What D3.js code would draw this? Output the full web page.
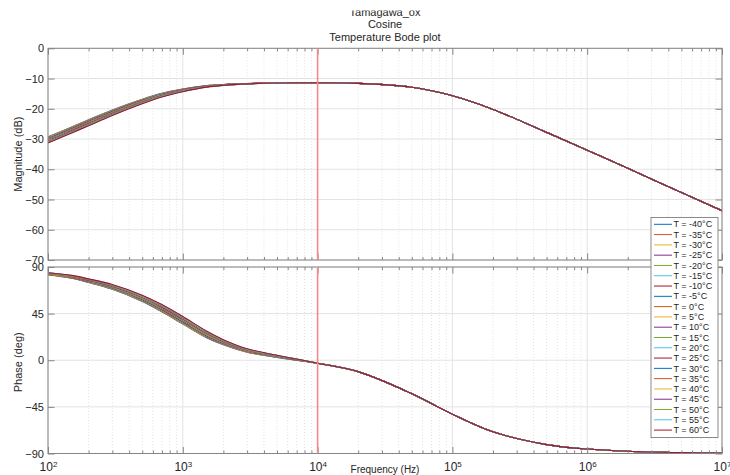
<!DOCTYPE html>
<html>
<head>
<meta charset="utf-8">
<script src="https://cdn.jsdelivr.net/npm/d3@7"></script>
<style>
  html, body { margin: 0; padding: 0; background: #fff; }
  svg { display: block; font-family: "Liberation Sans", Arial, Helvetica, sans-serif; }
</style>
</head>
<body>
<svg id="chart" width="730" height="475"></svg>
<script>
// ---- data -------------------------------------------------------------
const temperatures = [-40, -35, -30, -25, -20, -15, -10, -5, 0, 5, 10, 15, 20, 25, 30, 35, 40, 45, 50, 55, 60];

// frequencies (Hz) where the temperature curves still differ
const freqLow = [100, 150, 200, 300, 500, 700, 1000, 1500, 2000, 3000, 5000, 7000];
// frequencies (Hz) where all curves coincide
const freqHigh = [1e4, 2e4, 5e4, 1e5, 2e5, 5e5, 1e6, 2e6, 5e6, 1e7];

// magnitude (dB), one row per temperature, at freqLow
const magLow = [
  [-29.3, -26.0, -23.6, -20.40, -16.85, -14.90, -13.45, -12.35, -11.95, -11.63, -11.43, -11.4],
  [-29.4, -26.1, -23.7, -20.49, -16.93, -14.96, -13.50, -12.38, -11.97, -11.64, -11.43, -11.4],
  [-29.5, -26.2, -23.8, -20.58, -17.00, -15.02, -13.54, -12.40, -11.98, -11.64, -11.43, -11.4],
  [-29.6, -26.3, -23.9, -20.67, -17.08, -15.08, -13.59, -12.43, -12.00, -11.65, -11.44, -11.4],
  [-29.7, -26.4, -24.0, -20.76, -17.15, -15.14, -13.63, -12.45, -12.01, -11.66, -11.44, -11.4],
  [-29.8, -26.5, -24.1, -20.85, -17.23, -15.20, -13.68, -12.48, -12.03, -11.67, -11.44, -11.4],
  [-29.9, -26.6, -24.2, -20.94, -17.30, -15.26, -13.72, -12.50, -12.04, -11.67, -11.44, -11.4],
  [-30.0, -26.7, -24.3, -21.03, -17.38, -15.32, -13.77, -12.53, -12.06, -11.68, -11.44, -11.4],
  [-30.1, -26.8, -24.4, -21.12, -17.45, -15.38, -13.81, -12.55, -12.07, -11.69, -11.45, -11.4],
  [-30.2, -26.9, -24.5, -21.21, -17.53, -15.44, -13.86, -12.58, -12.09, -11.69, -11.45, -11.4],
  [-30.3, -27.0, -24.6, -21.30, -17.60, -15.50, -13.90, -12.60, -12.10, -11.70, -11.45, -11.4],
  [-30.4, -27.1, -24.7, -21.39, -17.68, -15.56, -13.95, -12.63, -12.12, -11.71, -11.45, -11.4],
  [-30.5, -27.2, -24.8, -21.48, -17.75, -15.62, -13.99, -12.65, -12.13, -11.71, -11.45, -11.4],
  [-30.6, -27.3, -24.9, -21.57, -17.83, -15.68, -14.04, -12.68, -12.15, -11.72, -11.46, -11.4],
  [-30.7, -27.4, -25.0, -21.66, -17.90, -15.74, -14.08, -12.70, -12.16, -11.73, -11.46, -11.4],
  [-30.8, -27.5, -25.1, -21.75, -17.98, -15.80, -14.13, -12.73, -12.18, -11.74, -11.46, -11.4],
  [-30.9, -27.6, -25.2, -21.84, -18.05, -15.86, -14.17, -12.75, -12.19, -11.74, -11.46, -11.4],
  [-31.0, -27.7, -25.3, -21.93, -18.13, -15.92, -14.22, -12.78, -12.21, -11.75, -11.47, -11.4],
  [-31.1, -27.8, -25.4, -22.02, -18.20, -15.98, -14.26, -12.80, -12.22, -11.76, -11.47, -11.4],
  [-31.2, -27.9, -25.5, -22.11, -18.28, -16.04, -14.31, -12.83, -12.24, -11.76, -11.47, -11.4],
  [-31.3, -28.0, -25.6, -22.20, -18.35, -16.10, -14.35, -12.85, -12.25, -11.77, -11.47, -11.4]
];
// magnitude (dB) shared by all temperatures, at freqHigh
const magHigh = [-11.4, -11.6, -12.9, -15.7, -20.2, -27.8, -33.7, -39.7, -47.7, -53.7];

// phase (deg), one row per temperature, at freqLow
const phaseLow = [
  [82.5, 79.10, 75.05, 68.50, 56.8, 46.70, 35.00, 21.80, 14.90, 7.70, 2.8, 0.00],
  [82.6, 79.24, 75.23, 68.73, 57.1, 47.05, 35.36, 22.12, 15.15, 7.87, 2.9, 0.06],
  [82.7, 79.38, 75.40, 68.96, 57.4, 47.40, 35.72, 22.44, 15.40, 8.04, 3.0, 0.12],
  [82.8, 79.52, 75.58, 69.19, 57.7, 47.75, 36.08, 22.76, 15.65, 8.21, 3.1, 0.18],
  [82.9, 79.66, 75.75, 69.42, 58.0, 48.10, 36.44, 23.08, 15.90, 8.38, 3.2, 0.24],
  [83.0, 79.80, 75.93, 69.65, 58.3, 48.45, 36.80, 23.40, 16.15, 8.55, 3.3, 0.30],
  [83.1, 79.94, 76.10, 69.88, 58.6, 48.80, 37.16, 23.72, 16.40, 8.72, 3.4, 0.36],
  [83.2, 80.08, 76.28, 70.11, 58.9, 49.15, 37.52, 24.04, 16.65, 8.89, 3.5, 0.42],
  [83.3, 80.22, 76.45, 70.34, 59.2, 49.50, 37.88, 24.36, 16.90, 9.06, 3.6, 0.48],
  [83.4, 80.36, 76.63, 70.57, 59.5, 49.85, 38.24, 24.68, 17.15, 9.23, 3.7, 0.54],
  [83.5, 80.50, 76.80, 70.80, 59.8, 50.20, 38.60, 25.00, 17.40, 9.40, 3.8, 0.60],
  [83.6, 80.64, 76.98, 71.03, 60.1, 50.55, 38.96, 25.32, 17.65, 9.57, 3.9, 0.66],
  [83.7, 80.78, 77.15, 71.26, 60.4, 50.90, 39.32, 25.64, 17.90, 9.74, 4.0, 0.72],
  [83.8, 80.92, 77.33, 71.49, 60.7, 51.25, 39.68, 25.96, 18.15, 9.91, 4.1, 0.78],
  [83.9, 81.06, 77.50, 71.72, 61.0, 51.60, 40.04, 26.28, 18.40, 10.08, 4.2, 0.84],
  [84.0, 81.20, 77.68, 71.95, 61.3, 51.95, 40.40, 26.60, 18.65, 10.25, 4.3, 0.90],
  [84.1, 81.34, 77.85, 72.18, 61.6, 52.30, 40.76, 26.92, 18.90, 10.42, 4.4, 0.96],
  [84.2, 81.48, 78.03, 72.41, 61.9, 52.65, 41.12, 27.24, 19.15, 10.59, 4.5, 1.02],
  [84.3, 81.62, 78.20, 72.64, 62.2, 53.00, 41.48, 27.56, 19.40, 10.76, 4.6, 1.08],
  [84.4, 81.76, 78.38, 72.87, 62.5, 53.35, 41.84, 27.88, 19.65, 10.93, 4.7, 1.14],
  [84.5, 81.90, 78.55, 73.10, 62.8, 53.70, 42.20, 28.20, 19.90, 11.10, 4.8, 1.20]
];
// phase (deg) shared by all temperatures, at freqHigh
const phaseHigh = [-2.9, -11.0, -32.3, -52.0, -69.0, -81.4, -85.7, -87.8, -89.1, -89.6];

const seriesColors = ["#0072BD", "#D95319", "#EDB120", "#7E2F8E", "#77AC30", "#4DBEEE", "#A2142F"];

const magTicks = [0, -10, -20, -30, -40, -50, -60, -70];
const phaseTicks = [90, 45, 0, -45, -90];
const freqTicks = [1e2, 1e3, 1e4, 1e5, 1e6, 1e7];
const markerFreq = 1e4;

const titleLines = ["Tamagawa_ox", "Cosine", "Temperature Bode plot"];
const xLabel = "Frequency (Hz)";
const magLabel = "Magnitude (dB)";
const phaseLabel = "Phase (deg)";

// ---- layout -----------------------------------------------------------
const svg = d3.select("#chart");
const left = 48, right = 722;
const magTop = 48.3, magBottom = 260;
const phTop = 267, phBottom = 453.5;
const axisColor = "#858585";
const textColor = "#262626";

const x = d3.scaleLog().domain([1e2, 1e7]).range([left, right]);
const yMag = d3.scaleLinear().domain([-70, 0]).range([magBottom, magTop]);
const yPh = d3.scaleLinear().domain([-90, 90]).range([phBottom, phTop]);

const allFreqTicks = x.ticks();
const minorFreqTicks = allFreqTicks.filter(f => Math.abs(Math.log10(f) - Math.round(Math.log10(f))) > 1e-9);

const series = temperatures.map((t, i) => ({
  t,
  color: seriesColors[i % seriesColors.length],
  mag: freqLow.map((f, j) => ({ f, v: magLow[i][j] })).concat(freqHigh.map((f, j) => ({ f, v: magHigh[j] }))),
  phase: freqLow.map((f, j) => ({ f, v: phaseLow[i][j] })).concat(freqHigh.map((f, j) => ({ f, v: phaseHigh[j] })))
}));

const defs = svg.append("defs");
const panels = [];

function panel(id, y, top, bottom, ticks, key, showXLabels) {
  const g = svg.append("g").attr("class", "panel-" + id);

  defs.append("clipPath").attr("id", "clip-" + id)
    .append("rect").attr("x", left).attr("y", top)
    .attr("width", right - left).attr("height", bottom - top);

  // grid
  const grid = g.append("g").attr("class", "grid");
  grid.selectAll("line.minor-x").data(minorFreqTicks).join("line")
    .attr("class", "minor-x")
    .attr("x1", d => x(d)).attr("x2", d => x(d))
    .attr("y1", top).attr("y2", bottom)
    .attr("stroke", "#e2e2e2").attr("stroke-width", 1).attr("stroke-dasharray", "1,2");
  grid.selectAll("line.major-x").data(freqTicks).join("line")
    .attr("class", "major-x")
    .attr("x1", d => x(d)).attr("x2", d => x(d))
    .attr("y1", top).attr("y2", bottom)
    .attr("stroke", "#e3e3e3").attr("stroke-width", 1);
  grid.selectAll("line.major-y").data(ticks).join("line")
    .attr("class", "major-y")
    .attr("x1", left).attr("x2", right)
    .attr("y1", d => y(d)).attr("y2", d => y(d))
    .attr("stroke", "#e3e3e3").attr("stroke-width", 1);

  // curves, one per temperature
  const line = d3.line().x(d => x(d.f)).y(d => y(d.v)).curve(d3.curveCatmullRom.alpha(0.5));
  g.append("g").attr("class", "curves").attr("clip-path", "url(#clip-" + id + ")")
    .selectAll("path").data(series).join("path")
    .attr("d", d => line(d[key]))
    .attr("fill", "none")
    .attr("stroke", d => d.color)
    .attr("stroke-width", 1.1);

  // axes (ticks point inward)
  const styleAxis = sel => {
    sel.select(".domain").remove();
    sel.selectAll(".tick line").attr("stroke", axisColor);
    sel.selectAll(".tick text").attr("fill", textColor);
  };
  g.append("g").attr("transform", `translate(${left},0)`)
    .call(d3.axisLeft(y).tickValues(ticks).tickSize(-6.5).tickPadding(4))
    .call(styleAxis)
    .selectAll("text").attr("font-size", 11).attr("font-family", null);
  g.append("g").attr("transform", `translate(${right},0)`)
    .call(d3.axisRight(y).tickValues(ticks).tickSize(-6.5).tickFormat(""))
    .call(styleAxis);
  g.append("g").attr("transform", `translate(0,${top})`)
    .call(d3.axisTop(x).tickValues(freqTicks).tickSize(-6.5).tickFormat(""))
    .call(styleAxis);
  g.append("g").attr("transform", `translate(0,${top})`)
    .call(d3.axisTop(x).tickValues(minorFreqTicks).tickSize(-3).tickFormat(""))
    .call(styleAxis);
  g.append("g").attr("transform", `translate(0,${bottom})`)
    .call(d3.axisBottom(x).tickValues(minorFreqTicks).tickSize(-3).tickFormat(""))
    .call(styleAxis);
  const xb = g.append("g").attr("transform", `translate(0,${bottom})`)
    .call(d3.axisBottom(x).tickValues(freqTicks).tickSize(-6.5).tickPadding(9)
      .tickFormat(showXLabels ? () => "10" : ""))
    .call(styleAxis);
  if (showXLabels) {
    xb.selectAll(".tick text")
      .attr("font-size", 12).attr("font-family", null)
      .each(function (d) {
        d3.select(this).append("tspan")
          .attr("font-size", 8).attr("dy", "-0.55em")
          .text(Math.round(Math.log10(d)));
      });
  }

  // box
  g.append("rect")
    .attr("x", left).attr("y", top)
    .attr("width", right - left).attr("height", bottom - top)
    .attr("fill", "none").attr("stroke", axisColor).attr("stroke-width", 1);

  panels.push({ top, bottom });
}

panel("mag", yMag, magTop, magBottom, magTicks, "mag", false);
panel("phase", yPh, phTop, phBottom, phaseTicks, "phase", true);

// 10 kHz marker across both panels
svg.append("g").attr("class", "markers")
  .selectAll("line").data(panels).join("line")
  .attr("x1", x(markerFreq)).attr("x2", x(markerFreq))
  .attr("y1", d => d.top).attr("y2", d => d.bottom)
  .style("stroke", "#f58888")
  .style("stroke-width", "1.6px");

// axis labels
svg.append("text")
  .attr("transform", `translate(22,${(magTop + magBottom) / 2}) rotate(-90)`)
  .attr("text-anchor", "middle").attr("font-size", 11).attr("fill", textColor)
  .text(magLabel);
svg.append("text")
  .attr("transform", `translate(22,${(phTop + phBottom) / 2 + 2}) rotate(-90)`)
  .attr("text-anchor", "middle").attr("font-size", 11).attr("fill", textColor)
  .text(phaseLabel);
svg.append("text")
  .attr("x", (left + right) / 2).attr("y", 472.5)
  .attr("text-anchor", "middle").attr("font-size", 10).attr("fill", textColor)
  .text(xLabel);

// titles
defs.append("clipPath").attr("id", "clip-title")
  .append("rect").attr("x", 0).attr("y", 10.5).attr("width", 730).attr("height", 40);
svg.append("g").attr("clip-path", "url(#clip-title)")
  .selectAll("text").data(titleLines).join("text")
  .attr("x", (left + right) / 2)
  .attr("y", (d, i) => 15.5 + i * 12.6)
  .attr("text-anchor", "middle").attr("font-size", 11).attr("fill", textColor)
  .text(d => d);

// legend
const legX = 651, legY = 217.5, legW = 67, legH = 220;
const lg = svg.append("g").attr("class", "legend");
lg.append("rect").attr("x", legX).attr("y", legY).attr("width", legW).attr("height", legH)
  .attr("fill", "#fff").attr("stroke", "#8a8a8a").attr("stroke-width", 1);
const entry = lg.selectAll("g.entry").data(series).join("g")
  .attr("class", "entry")
  .attr("transform", (d, i) => `translate(0,${224.3 + i * 10.29})`);
entry.append("line")
  .attr("x1", 654).attr("x2", 672).attr("y1", 0).attr("y2", 0)
  .attr("stroke", d => d.color).attr("stroke-width", 1);
entry.append("text")
  .attr("x", 673.5).attr("y", 0).attr("dy", "0.35em")
  .attr("font-size", 9).attr("fill", textColor)
  .text(d => `T = ${d.t}°C`);
</script>
</body>
</html>
